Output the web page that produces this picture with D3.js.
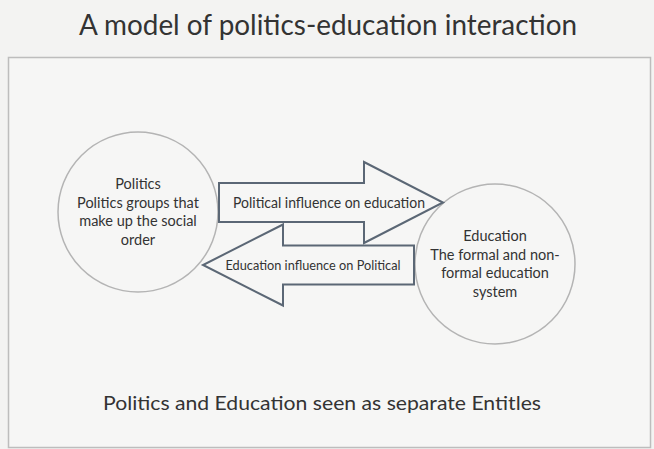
<!DOCTYPE html>
<html>
<head>
<meta charset="utf-8">
<script src="https://cdn.jsdelivr.net/npm/d3@7"></script>
<style>
  body { margin: 0; background: #f3f3f2; }
  svg { display: block; }
  text { font-family: Lato, "Open Sans", sans-serif; fill: #333; }
</style>
</head>
<body>
<div id="diagram"></div>
<script>
const title = "A model of politics-education interaction";
const caption = "Politics and Education seen as separate Entitles";

const nodeNames = ["Politics", "Education"];
const nodeLines = [
  ["Politics", "Politics groups that", "make up the social", "order"],
  ["Education", "The formal and non-", "formal education", "system"],
];

const arrowLabels = ["Political influence on education", "Education influence on Political"];
const arrowDirs = ["right", "left"];

const size = { width: 654, height: 449 };

const svg = d3
  .select("#diagram")
  .append("svg")
  .attr("width", size.width)
  .attr("height", size.height);

// background + frame
svg.append("rect").attr("width", size.width).attr("height", size.height).attr("fill", "#f3f3f2");
svg
  .append("rect")
  .attr("x", 8.5)
  .attr("y", 57.5)
  .attr("width", 642)
  .attr("height", 390)
  .attr("fill", "#f6f6f5")
  .attr("stroke", "#bdbdbd")
  .attr("stroke-width", 1.5);

const fitText = (sel, w) => {
  sel.attr("textLength", w).attr("lengthAdjust", "spacingAndGlyphs");
};

svg
  .append("text")
  .text(title)
  .attr("x", 328)
  .attr("y", 35)
  .attr("text-anchor", "middle")
  .style("font-size", "29px")
  .call(fitText, 498);

svg
  .append("text")
  .text(caption)
  .attr("x", 322)
  .attr("y", 410)
  .attr("text-anchor", "middle")
  .style("font-size", "20px")
  .call(fitText, 438);

// node layout
const x = d3.scalePoint().domain(nodeNames).range([138, 495]);
const y = d3.scalePoint().domain(nodeNames).range([212, 264]);
const r = 80;

const nodes = svg
  .append("g")
  .selectAll("g")
  .data(nodeNames)
  .enter()
  .append("g")
  .attr("transform", (d) => `translate(${x(d)},${y(d)})`);

nodes
  .append("circle")
  .attr("r", r)
  .attr("fill", "#f6f6f5")
  .attr("stroke", "#b4b4b4")
  .attr("stroke-width", 1.5);

nodes.each(function (d, i) {
  const lines = nodeLines[i];
  const g = d3.select(this);
  const lh = 18.5;
  lines.forEach((ln, j) => {
    g.append("text")
      .text(ln)
      .attr("x", 0)
      .attr("y", (j - (lines.length - 1) / 2) * lh + 5)
      .attr("text-anchor", "middle")
      .style("font-size", "14.5px");
  });
});

// arrows between the nodes
const arrowY = d3.scalePoint().domain(arrowLabels).range([202.5, 265]);
const arrowGeom = (dir, cy) => {
  const shaft = 19.5;
  const head = 40.5;
  if (dir === "right") {
    const x0 = x("Politics") + r + 1;
    const tip = x("Education") - 52;
    const base = tip - 79;
    return [
      [x0, cy - shaft], [base, cy - shaft], [base, cy - head], [tip, cy],
      [base, cy + head], [base, cy + shaft], [x0, cy + shaft],
    ];
  }
  const x0 = x("Education") - r - 1;
  const tip = x("Politics") + 65;
  const base = tip + 80;
  return [
    [x0, cy - shaft], [base, cy - shaft], [base, cy - head], [tip, cy],
    [base, cy + head], [base, cy + shaft], [x0, cy + shaft],
  ];
};

const arrows = svg
  .append("g")
  .selectAll("g")
  .data(arrowLabels)
  .enter()
  .append("g");

arrows
  .append("path")
  .attr("d", (d, i) => d3.line()(arrowGeom(arrowDirs[i], arrowY(d))) + "Z")
  .attr("fill", "#f6f6f5")
  .attr("stroke", "#5b6775")
  .attr("stroke-width", 2)
  .attr("stroke-linejoin", "miter");

arrows
  .append("text")
  .text((d) => d)
  .attr("x", (d, i) => (i === 0 ? 329 : 313))
  .attr("y", (d) => arrowY(d) + 5)
  .attr("text-anchor", "middle")
  .style("font-size", (d, i) => (i === 0 ? "14.5px" : "13.5px"))
  .each(function (d, i) {
    d3.select(this).call(fitText, i === 0 ? 192 : 175);
  });
</script>
</body>
</html>
